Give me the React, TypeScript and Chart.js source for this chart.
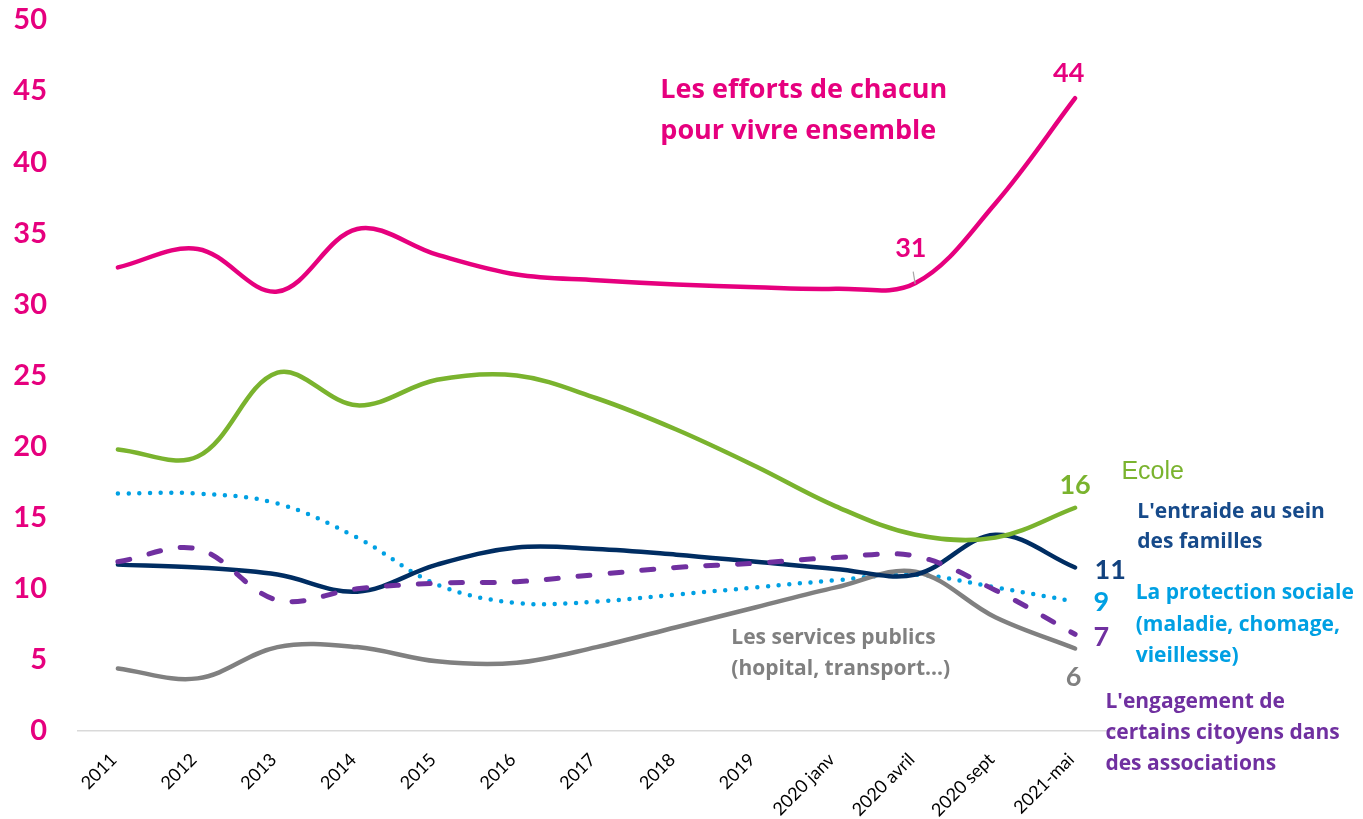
import React, { useEffect, useRef } from 'react';
import { Chart, registerables } from 'chart.js';

Chart.register(...registerables);

const categories = ['2011', '2012', '2013', '2014', '2015', '2016', '2017', '2018', '2019', '2020 janv', '2020 avril', '2020 sept', '2021-mai'];

const effortsValues = [32.6, 33.9, 30.9, 35.3, 33.5, 32.1, 31.7, 31.4, 31.2, 31.1, 31.5, 37.1, 44.5];
const ecoleValues = [19.8, 19.3, 25.2, 22.9, 24.7, 25.0, 23.4, 21.2, 18.6, 15.8, 13.8, 13.6, 15.7];
const entraideValues = [11.7, 11.5, 11.0, 9.8, 11.7, 12.9, 12.8, 12.4, 11.9, 11.4, 11.0, 13.8, 11.5];
const protectionValues = [16.7, 16.7, 16.0, 13.6, 10.3, 9.0, 9.1, 9.6, 10.1, 10.6, 11.0, 10.1, 9.1];
const engagementValues = [11.9, 12.8, 9.2, 10.0, 10.4, 10.5, 11.0, 11.5, 11.8, 12.2, 12.3, 9.9, 6.8];
const servicesValues = [4.4, 3.7, 5.9, 5.9, 4.9, 4.8, 5.9, 7.3, 8.7, 10.1, 11.2, 8.0, 5.8];

const yTicks = [0, 5, 10, 15, 20, 25, 30, 35, 40, 45, 50];

const effortsTitle = ['Les efforts de chacun', 'pour vivre ensemble'];
const ecoleTitle = ['Ecole'];
const entraideTitle = ["L'entraide au sein", 'des familles'];
const protectionTitle = ['La protection sociale', '(maladie, chomage,', 'vieillesse)'];
const engagementTitle = ["L'engagement de", 'certains citoyens dans', 'des associations'];
const servicesTitle = ['Les services publics', '(hopital, transport...)'];
const valueLabels = ['44', '31', '16', '11', '9', '7', '6'];

const PINK = '#E6007E';
const GREEN = '#7AB32E';
const NAVY = '#002D62';
const NAVY_TEXT = '#164A8A';
const BLUE = '#00A0E3';
const PURPLE = '#7030A0';
const GRAY = '#808080';

const FONT = 'Lato, "Open Sans", sans-serif';
const TEXT_FONT = '"Open Sans", "Noto Sans", sans-serif';

type Ann = { lines: string[]; i: number; v: number; color: string; font: string; align: CanvasTextAlign; lh: number };

const labelFont = `bold 21px ${TEXT_FONT}`;
const numFont = `bold 27px ${FONT}`;

const annotations: Ann[] = [
  { lines: effortsTitle, i: 6.8, v: 45.08, color: PINK, font: `bold 27px ${TEXT_FONT}`, align: 'left', lh: 41 },
  { lines: [valueLabels[0]], i: 11.92, v: 46.27, color: PINK, font: numFont, align: 'center', lh: 0 },
  { lines: [valueLabels[1]], i: 9.94, v: 33.97, color: PINK, font: numFont, align: 'center', lh: 0 },
  { lines: ecoleTitle, i: 12.58, v: 18.21, color: GREEN, font: `25px "Liberation Sans", Arial, sans-serif`, align: 'left', lh: 0 },
  { lines: [valueLabels[2]], i: 12.0, v: 17.3, color: GREEN, font: numFont, align: 'center', lh: 0 },
  { lines: entraideTitle, i: 12.78, v: 15.4, color: NAVY_TEXT, font: labelFont, align: 'left', lh: 30 },
  { lines: [valueLabels[3]], i: 12.44, v: 11.32, color: '#12427F', font: numFont, align: 'center', lh: 0 },
  { lines: protectionTitle, i: 12.76, v: 9.7, color: BLUE, font: labelFont, align: 'left', lh: 31.5 },
  { lines: [valueLabels[4]], i: 12.33, v: 9.07, color: BLUE, font: numFont, align: 'center', lh: 0 },
  { lines: [valueLabels[5]], i: 12.33, v: 6.61, color: PURPLE, font: numFont, align: 'center', lh: 0 },
  { lines: [valueLabels[6]], i: 11.98, v: 3.8, color: GRAY, font: numFont, align: 'center', lh: 0 },
  { lines: engagementTitle, i: 12.38, v: 2.04, color: PURPLE, font: labelFont, align: 'left', lh: 31 },
  { lines: servicesTitle, i: 7.69, v: 6.54, color: GRAY, font: labelFont, align: 'left', lh: 31 },
];

const annotationPlugin = {
  id: 'textAnnotations',
  afterDatasetsDraw(chart: any) {
    const { ctx } = chart;
    const xs = chart.scales.x;
    const ys = chart.scales.y;
    ctx.save();
    // leader line for "31"
    ctx.strokeStyle = '#A6A6A6';
    ctx.lineWidth = 1.2;
    ctx.beginPath();
    ctx.moveTo(xs.getPixelForValue(9.97), ys.getPixelForValue(32.3));
    ctx.lineTo(xs.getPixelForValue(9.995), ys.getPixelForValue(31.45));
    ctx.stroke();
    for (const a of annotations) {
      ctx.font = a.font;
      ctx.fillStyle = a.color;
      ctx.textAlign = a.align;
      ctx.textBaseline = 'middle';
      const x0 = xs.getPixelForValue(a.i);
      const y0 = ys.getPixelForValue(a.v);
      a.lines.forEach((t, k) => ctx.fillText(t, x0, y0 + k * a.lh));
    }
    ctx.restore();
  },
};

export default function App() {
  const ref = useRef<HTMLCanvasElement | null>(null);
  useEffect(() => {
    if (!ref.current) return;
    const common = { pointRadius: 0, pointHoverRadius: 0, fill: false, tension: 0.36, borderJoinStyle: 'round' as const };
    const chart = new Chart(ref.current, {
      type: 'line',
      data: {
        labels: categories,
        datasets: [
          { ...common, label: effortsTitle.join(' '), data: effortsValues, borderColor: PINK, borderWidth: 4.5, borderCapStyle: 'round' },
          { ...common, label: ecoleTitle[0], data: ecoleValues, borderColor: GREEN, borderWidth: 4.5, borderCapStyle: 'round' },
          { ...common, label: engagementTitle.join(' '), data: engagementValues, borderColor: PURPLE, borderWidth: 5, borderDash: [12, 20], borderCapStyle: 'round' },
          { ...common, label: entraideTitle.join(' '), data: entraideValues, borderColor: NAVY, borderWidth: 4.5, borderCapStyle: 'round' },
          { ...common, label: servicesTitle.join(' '), data: servicesValues, borderColor: GRAY, borderWidth: 4.5, borderCapStyle: 'round' },
          { ...common, label: protectionTitle.join(' '), data: protectionValues, borderColor: BLUE, borderWidth: 4.5, borderDash: [0, 10.7], borderCapStyle: 'round' },
        ],
      },
      options: {
        responsive: false,
        devicePixelRatio: 1,
        animation: false,
        events: [],
        layout: { padding: { top: 20, right: 248, bottom: 0, left: 0 } },
        plugins: { legend: { display: false }, tooltip: { enabled: false } },
        scales: {
          x: {
            type: 'category',
            offset: true,
            grid: { display: false, drawTicks: false },
            border: { display: true, color: '#D9D9D9', width: 1.5 },
            ticks: {
              color: '#000000',
              font: { family: FONT, size: 18 },
              maxRotation: 45,
              minRotation: 45,
              autoSkip: false,
              padding: 18,
              labelOffset: -4,
            },
            afterFit: (scale: any) => { scale.height = 88; scale.paddingLeft = 0; scale.paddingRight = 0; },
          },
          y: {
            min: 0,
            max: 50,
            afterBuildTicks: (scale: any) => { scale.ticks = yTicks.map((v) => ({ value: v })); },
            grid: { display: false, drawTicks: false },
            border: { display: false },
            ticks: {
              color: PINK,
              font: { family: FONT, size: 29, weight: 'bold' },
              padding: 31,
            },
            afterFit: (scale: any) => { scale.width = 78; scale.paddingTop = 0; scale.paddingBottom = 0; },
          },
        },
      },
      plugins: [annotationPlugin],
    });
    return () => chart.destroy();
  }, []);
  return (
    <div style={{ position: 'absolute', left: 0, top: 0, width: 1363, height: 819, background: '#fff' }}>
      <canvas ref={ref} width={1363} height={819} />
    </div>
  );
}
